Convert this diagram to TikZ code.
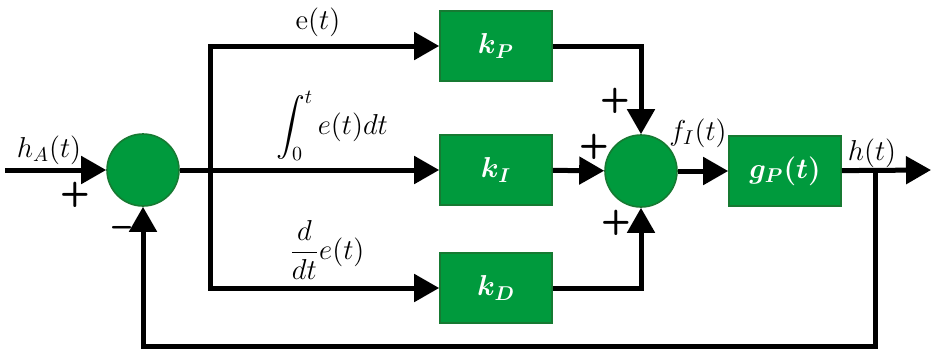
\documentclass[tikz,12pt,border=0pt]{standalone}
\usepackage{amsmath,amssymb,bm}
\usepackage{tikz}
\usetikzlibrary{arrows.meta,positioning,calc}
\definecolor{pidgreen}{RGB}{0,154,61}
\definecolor{pidedge}{RGB}{22,122,50}

\begin{document}
\begin{tikzpicture}[
    x=0.5pt, y=-0.5pt,
    block/.style={rectangle, draw=pidedge, line width=0.8pt, fill=pidgreen, minimum width=56pt, minimum height=35pt, text=white, font=\large},
    sum/.style={circle, draw=pidedge, line width=0.8pt, fill=pidgreen, minimum size=36pt, inner sep=0pt},
    sig/.style={line width=2.5pt, -{Triangle[length=12.5pt,width=13.5pt]}},
    lbl/.style={font=\large, inner sep=1pt},
    sgn/.style={font=\Large\sffamily\bfseries, inner sep=0pt}
]
\useasboundingbox (0,0) rectangle (931,349);

% Summing junctions
\node[sum] (sum1) at (143,170) {};
\node[sum] (sum2) at (641,171) {};

% Controller gains
\node[block] (kP) at (496,46) {$\bm{k_P}$};
\node[block] (kI) at (496,170) {$\bm{k_I}$};
\node[block] (kD) at (496,288) {$\bm{k_D}$};

% Plant
\node[block] (gP) at (785,171) {$\bm{g_P(t)}$};

% Helper points
\coordinate (in) at (5,170);
\coordinate (br) at (210,170);
\coordinate (out) at (931,170);
\coordinate (fb) at (875,170);
\coordinate (fbd) at (875,346);

% Signal paths
\draw[sig] (in) -- (sum1);
\draw[sig] (sum1) -- (kI);
\draw[sig] (br) |- (kP);
\draw[sig] (br) |- (kD);
\draw[sig] (kP) -| (sum2);
\draw[sig] (kI) -- (sum2);
\draw[sig] (kD) -| (sum2);
\draw[sig] (sum2) -- (gP);
\draw[sig] (gP) -- (out);
\draw[sig] (fb) -- (fbd) -| (sum1);

% Signal labels
\node[lbl] (lblin) at (49,150) {$h_A(t)$};
\node[lbl] (lble) at (318,22) {$\mathrm{e}(t)$};
\node[lbl] (lblint) at (332,126) {$\displaystyle\int_0^t e(t)dt$};
\node[lbl] (lbldiff) at (327,250) {$\dfrac{d}{dt}e(t)$};
\node[lbl] (lblf) at (698,133) {$f_I(t)$};
\node[lbl] (lblh) at (872,153) {$h(t)$};

% Signs
\node[sgn] (p1) at (75,195) {+};
\node[sgn] (m1) at (122,232) {--};
\node[sgn] (p2) at (615,101) {+};
\node[sgn] (p3) at (594,147) {+};
\node[sgn] (p4) at (616,223) {+};

\end{tikzpicture}
\end{document}
